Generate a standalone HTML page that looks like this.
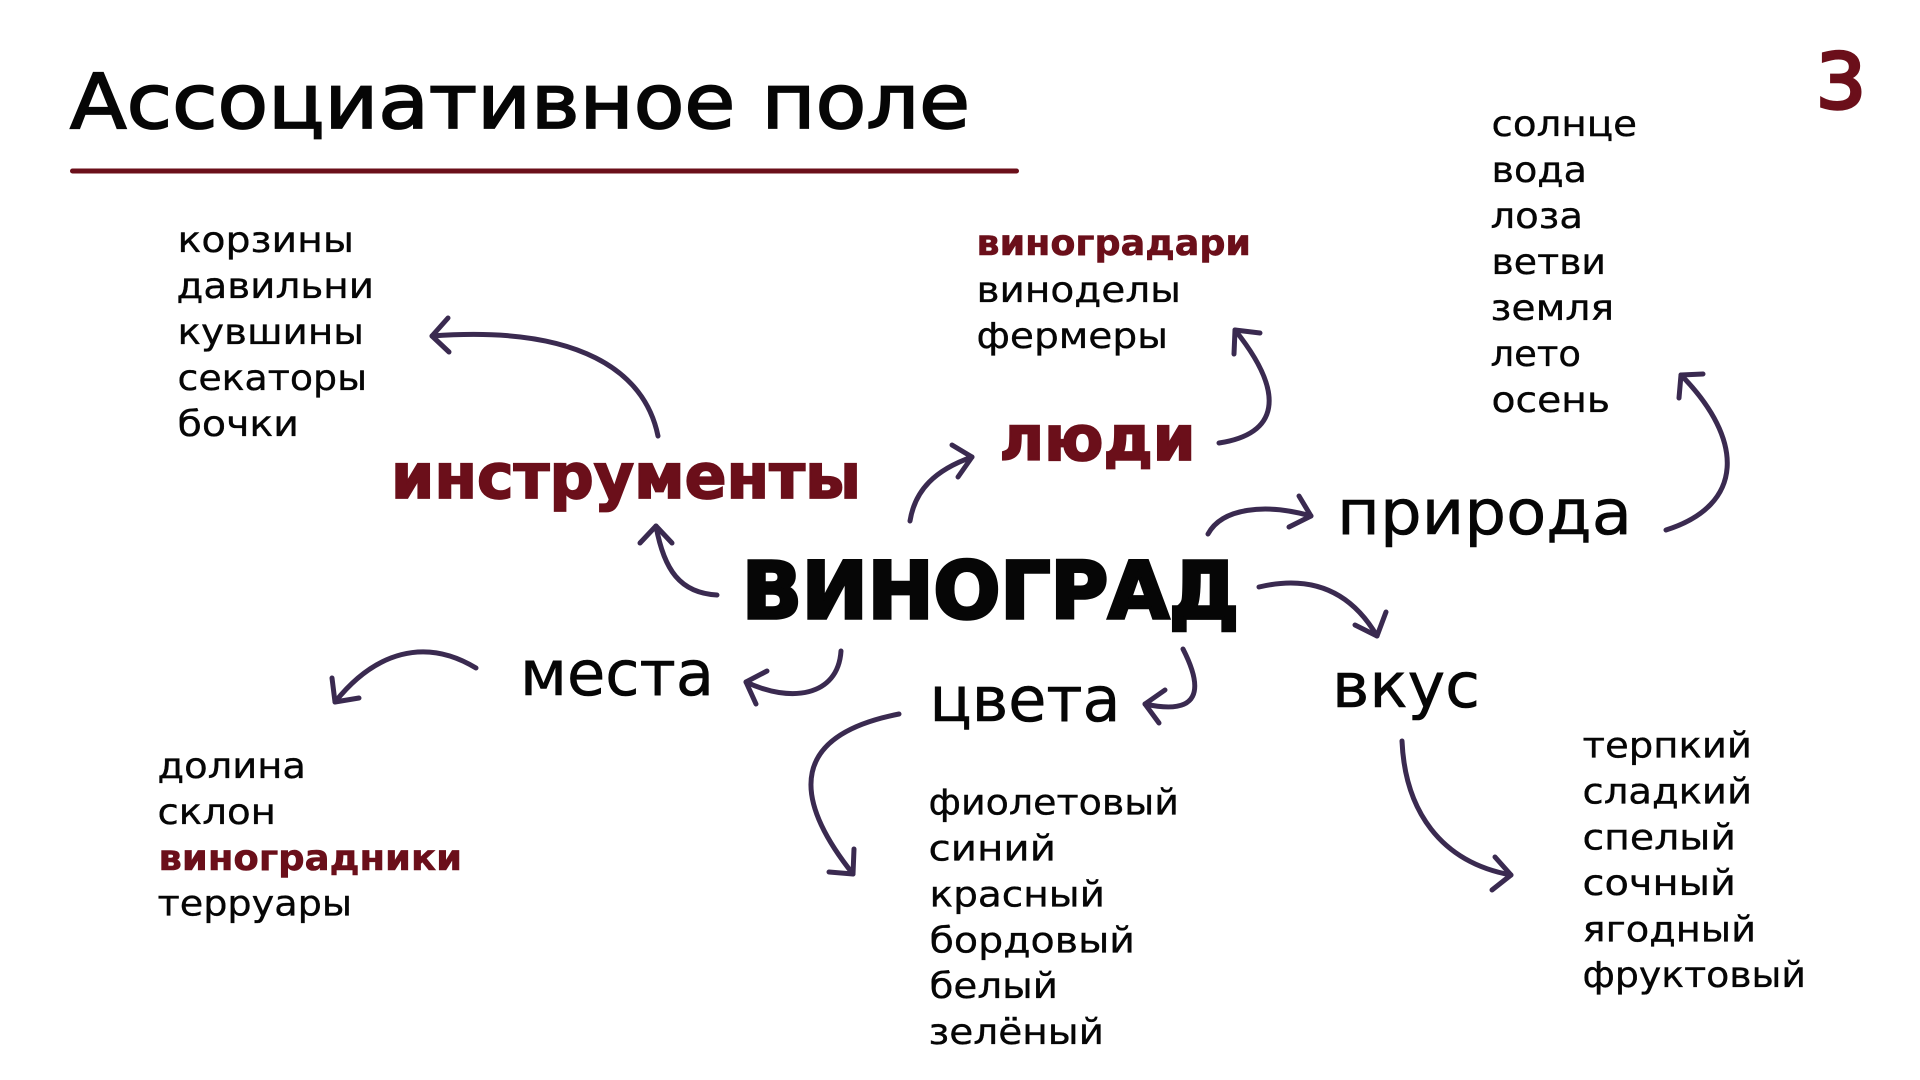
<!DOCTYPE html>
<html lang="ru">
<head>
<meta charset="utf-8">
<title>Ассоциативное поле</title>
<style>
html,body{margin:0;padding:0;background:#fff;width:1920px;height:1080px;overflow:hidden}
svg{display:block;position:absolute;left:0;top:0}
text{font-family:"DejaVu Sans","Liberation Sans",sans-serif;fill:#060606}
.l{font-size:36px;stroke:#060606;stroke-width:.35px}
.g{font-size:62px;stroke:#060606;stroke-width:.6px}
.m{fill:#6b0f1a;stroke:#6b0f1a}
.b{font-weight:700}
.a path{fill:none;stroke:#3a2a50;stroke-width:5;stroke-linecap:round;stroke-linejoin:round}
</style>
</head>
<body>
<svg width="1920" height="1080" viewBox="0 0 1920 1080" xmlns="http://www.w3.org/2000/svg">
<rect width="1920" height="1080" fill="#fff"/>

<text x="70" y="128" font-size="76" textLength="900" lengthAdjust="spacingAndGlyphs" stroke="#060606" stroke-width="1.800">Ассоциативное поле</text>
<rect x="70" y="168.500" width="949" height="5" rx="2.500" fill="#6b0f1a"/>
<text x="1816" y="108" font-size="76" textLength="50" lengthAdjust="spacingAndGlyphs" class="m" stroke-width="3.500">3</text>

<!-- main -->
<text x="742" y="618" font-size="78" font-weight="700" textLength="497" lengthAdjust="spacingAndGlyphs" stroke="#060606" stroke-width="3.500">ВИНОГРАД</text>

<!-- categories -->
<text x="391" y="498" class="g b m" style="stroke-width:1.800px" textLength="470" lengthAdjust="spacingAndGlyphs">инструменты</text>
<text x="999.500" y="460" class="g b m" style="stroke-width:1.800px" textLength="196" lengthAdjust="spacingAndGlyphs">люди</text>
<text x="1337" y="534" class="g" textLength="295" lengthAdjust="spacingAndGlyphs">природа</text>
<text x="520" y="695" class="g" textLength="194" lengthAdjust="spacingAndGlyphs">места</text>
<text x="929.500" y="721" class="g" textLength="191" lengthAdjust="spacingAndGlyphs">цвета</text>
<text x="1332" y="707" class="g" textLength="148" lengthAdjust="spacingAndGlyphs">вкус</text>

<!-- tools -->
<text x="177.500" y="252" class="l" textLength="176.500" lengthAdjust="spacingAndGlyphs">корзины</text>
<text x="176.500" y="298" class="l" textLength="197.500" lengthAdjust="spacingAndGlyphs">давильни</text>
<text x="177.500" y="344" class="l" textLength="186.500" lengthAdjust="spacingAndGlyphs">кувшины</text>
<text x="177.500" y="390" class="l" textLength="189.500" lengthAdjust="spacingAndGlyphs">секаторы</text>
<text x="177.500" y="436" class="l" textLength="121.500" lengthAdjust="spacingAndGlyphs">бочки</text>

<!-- people -->
<text x="976.500" y="255" class="l b m" style="stroke-width:.6px" textLength="274.500" lengthAdjust="spacingAndGlyphs">виноградари</text>
<text x="976.500" y="302" class="l" textLength="204.500" lengthAdjust="spacingAndGlyphs">виноделы</text>
<text x="976.500" y="348" class="l" textLength="191.500" lengthAdjust="spacingAndGlyphs">фермеры</text>

<!-- nature -->
<text x="1491.500" y="136" class="l" textLength="145.500" lengthAdjust="spacingAndGlyphs">солнце</text>
<text x="1491.500" y="182" class="l" textLength="95.500" lengthAdjust="spacingAndGlyphs">вода</text>
<text x="1490.500" y="228" class="l" textLength="92.500" lengthAdjust="spacingAndGlyphs">лоза</text>
<text x="1491.500" y="274" class="l" textLength="114.500" lengthAdjust="spacingAndGlyphs">ветви</text>
<text x="1490.500" y="320" class="l" textLength="123.500" lengthAdjust="spacingAndGlyphs">земля</text>
<text x="1490.500" y="366" class="l" textLength="90.500" lengthAdjust="spacingAndGlyphs">лето</text>
<text x="1491.500" y="412" class="l" textLength="118.500" lengthAdjust="spacingAndGlyphs">осень</text>

<!-- places -->
<text x="157.500" y="778" class="l" textLength="148.500" lengthAdjust="spacingAndGlyphs">долина</text>
<text x="157.500" y="824" class="l" textLength="118.500" lengthAdjust="spacingAndGlyphs">склон</text>
<text x="158.500" y="870" class="l b m" style="stroke-width:.6px" textLength="303.500" lengthAdjust="spacingAndGlyphs">виноградники</text>
<text x="157.500" y="915.500" class="l" textLength="194.500" lengthAdjust="spacingAndGlyphs">терруары</text>

<!-- colours -->
<text x="928.500" y="814.500" class="l" textLength="250.500" lengthAdjust="spacingAndGlyphs">фиолетовый</text>
<text x="928.500" y="860.500" class="l" textLength="127.500" lengthAdjust="spacingAndGlyphs">синий</text>
<text x="929.500" y="906.500" class="l" textLength="175.500" lengthAdjust="spacingAndGlyphs">красный</text>
<text x="929.500" y="952.500" class="l" textLength="205.500" lengthAdjust="spacingAndGlyphs">бордовый</text>
<text x="929.500" y="998" class="l" textLength="128.500" lengthAdjust="spacingAndGlyphs">белый</text>
<text x="928.500" y="1044" class="l" textLength="175.500" lengthAdjust="spacingAndGlyphs">зелёный</text>

<!-- taste -->
<text x="1582.500" y="757.500" class="l" textLength="169.500" lengthAdjust="spacingAndGlyphs">терпкий</text>
<text x="1582.500" y="803.500" class="l" textLength="169.500" lengthAdjust="spacingAndGlyphs">сладкий</text>
<text x="1582.500" y="849.500" class="l" textLength="153.500" lengthAdjust="spacingAndGlyphs">спелый</text>
<text x="1582.500" y="895" class="l" textLength="153.500" lengthAdjust="spacingAndGlyphs">сочный</text>
<text x="1582.500" y="941.500" class="l" textLength="173.500" lengthAdjust="spacingAndGlyphs">ягодный</text>
<text x="1582.500" y="987" class="l" textLength="223.500" lengthAdjust="spacingAndGlyphs">фруктовый</text>

<!-- arrows -->
<g class="a">
<path d="M658,436 C645,372 580,325 432,336"/><path d="M448,318 L432,336 L449,352"/>
<path d="M717,595 C680,593 664,570 656,526"/><path d="M640,543 L656,526 L672,543"/>
<path d="M910,521 C915,490 935,470 972,457"/><path d="M952,445 L972,457 L958,477"/>
<path d="M1219,443 C1278,434 1287,395 1235,330"/><path d="M1260,333 L1235,330 L1234,354"/>
<path d="M1208,534 C1222,508 1265,503 1311,516"/><path d="M1299,496 L1311,516 L1289,527"/>
<path d="M1666,530 C1745,505 1745,440 1681,375"/><path d="M1703,374 L1681,375 L1679,398"/>
<path d="M1259,587 C1310,575 1350,590 1377,636"/><path d="M1355,625 L1377,636 L1386,612"/>
<path d="M1183,649 C1204,690 1200,716 1145,704"/><path d="M1165,690 L1145,704 L1159,723"/>
<path d="M841,651 C838,697 790,703 746,682"/><path d="M767,671 L746,682 L756,704"/>
<path d="M476,668 C425,637 375,652 335,702"/><path d="M332,678 L335,702 L359,698"/>
<path d="M899,714 C792,735 790,795 853,874"/><path d="M829,872 L853,874 L854,849"/>
<path d="M1402,741 C1405,810 1440,862 1511,875"/><path d="M1495,857 L1511,875 L1492,890"/>
</g>
</svg>
</body>
</html>
